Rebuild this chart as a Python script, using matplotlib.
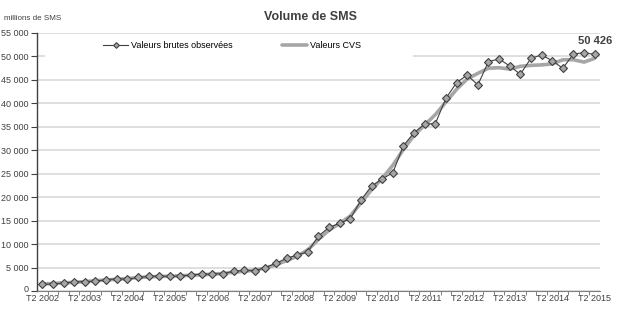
import matplotlib
matplotlib.use("Agg")
import matplotlib.pyplot as plt
import matplotlib.transforms as mtransforms
from matplotlib.patches import Rectangle
from matplotlib.ticker import FuncFormatter, FixedLocator

# quarterly SMS volume, T2 2002 .. T2 2015 (millions)
years = list(range(2002, 2016))
raw = [1400, 1500, 1700, 1900, 2000, 2100, 2400, 2600, 2500, 2900,
       3100, 3200, 3100, 3200, 3400, 3600, 3600, 3700, 4200, 4400,
       4300, 5000, 5900, 7000, 7670, 8380, 11730, 13580, 14430, 15420,
       19400, 22390, 23880, 25230, 30980, 33760, 35600, 35700, 41090, 44420,
       46050, 43920, 48900, 49470, 47970, 46200, 49600, 50320, 49100, 47480,
       50530, 50800, 50426]
cvs = [1500, 1600, 1750, 1850, 2000, 2200, 2350, 2500, 2650, 2850,
       3000, 3100, 3150, 3250, 3350, 3450, 3600, 3750, 4000, 4200,
       4450, 4900, 5600, 6500, 7400, 8800, 11000, 13000, 14400, 16000,
       18800, 21600, 24000, 26800, 30200, 33200, 35400, 37600, 40300, 43000,
       45200, 46400, 47500, 47600, 47300, 47900, 48100, 48200, 48400, 49300,
       49300, 48800, 49600]
tick_labels = [f"T2 {y}" for y in years]

dark = "#404040"
x = list(range(len(raw)))

fig = plt.figure(figsize=(6.2, 3.15), dpi=100)
ax = fig.add_axes([37 / 620, 24 / 315, 563 / 620, 258 / 315])
plt.rcParams["font.family"] = ["Liberation Sans", "DejaVu Sans"]

ax.set_xlim(-0.5, len(raw) - 0.5)
ax.set_ylim(0, 55000)
ax.set_yticks(range(0, 55001, 5000))
ax.yaxis.set_major_formatter(FuncFormatter(lambda v, p: f"{int(v):,}".replace(",", " ")))
ax.grid(axis="y", color="#d9d9d9", lw=1.2, zorder=0)
ax.set_axisbelow(True)

ax.xaxis.set_major_locator(FixedLocator(x[::4]))
ax.set_xticklabels(tick_labels, fontsize=6.5, color=dark, family="Liberation Sans")
ax.xaxis.set_minor_locator(FixedLocator([i + 0.5 for i in x[:-1]]))
ax.tick_params(axis="x", which="major", length=0, pad=2.5)
ax.tick_params(axis="x", which="minor", length=3, color="#808080", width=0.7)
ax.tick_params(axis="y", length=4, color=dark, width=0.8, pad=2, labelsize=6.5, labelcolor=dark)
for lab in ax.get_yticklabels():
    lab.set_family("Liberation Sans")
# lift the "0" a little so it clears the first quarter label
zero = ax.get_yticklabels()[0]
zero.set_transform(zero.get_transform() + mtransforms.ScaledTranslation(0, 3 / 100, fig.dpi_scale_trans))

for s in ["top", "right"]:
    ax.spines[s].set_visible(False)
ax.spines["left"].set_color(dark)
ax.spines["left"].set_linewidth(1)
ax.spines["bottom"].set_color("#808080")
ax.spines["bottom"].set_linewidth(0.8)

# white legend area covering gridline
ax.add_patch(Rectangle((0.014, 0.895), 0.654, 0.093, transform=ax.transAxes,
                       facecolor="white", edgecolor="none", zorder=1))

l_cvs, = ax.plot(x, cvs, color="#a6a6a6", lw=2.6, zorder=2, solid_capstyle="round")
l_raw, = ax.plot(x, raw, color=dark, lw=0.8, marker="D", markersize=3.6,
                 markerfacecolor="#a6a6a6", markeredgecolor=dark, markeredgewidth=0.8, zorder=3)

ax.annotate(f"{raw[-1]:,}".replace(",", " "), (x[-1], raw[-1]), xytext=(0, 6),
            textcoords="offset points", ha="center", va="bottom",
            fontsize=8, fontweight="bold", color=dark, family="Liberation Sans")

fig.legend([l_raw, l_cvs], ["Valeurs brutes observées", "Valeurs CVS"],
           loc="center", bbox_to_anchor=(232 / 620, 1 - 46 / 315), ncol=2,
           frameon=False, prop={"family": "Liberation Sans", "size": 6.5},
           handlelength=2.8, handletextpad=0.3, columnspacing=5.5, markerscale=0.8)

fig.text(310 / 620, 1 - 17 / 315, "Volume de SMS", ha="center", va="center",
         fontsize=9, fontweight="bold", color=dark, family="Liberation Sans")
fig.text(4 / 620, 1 - 18 / 315, "millions de SMS", ha="left", va="center",
         fontsize=5.8, color=dark, family="Liberation Sans")

fig.savefig("out.png", dpi=100)
